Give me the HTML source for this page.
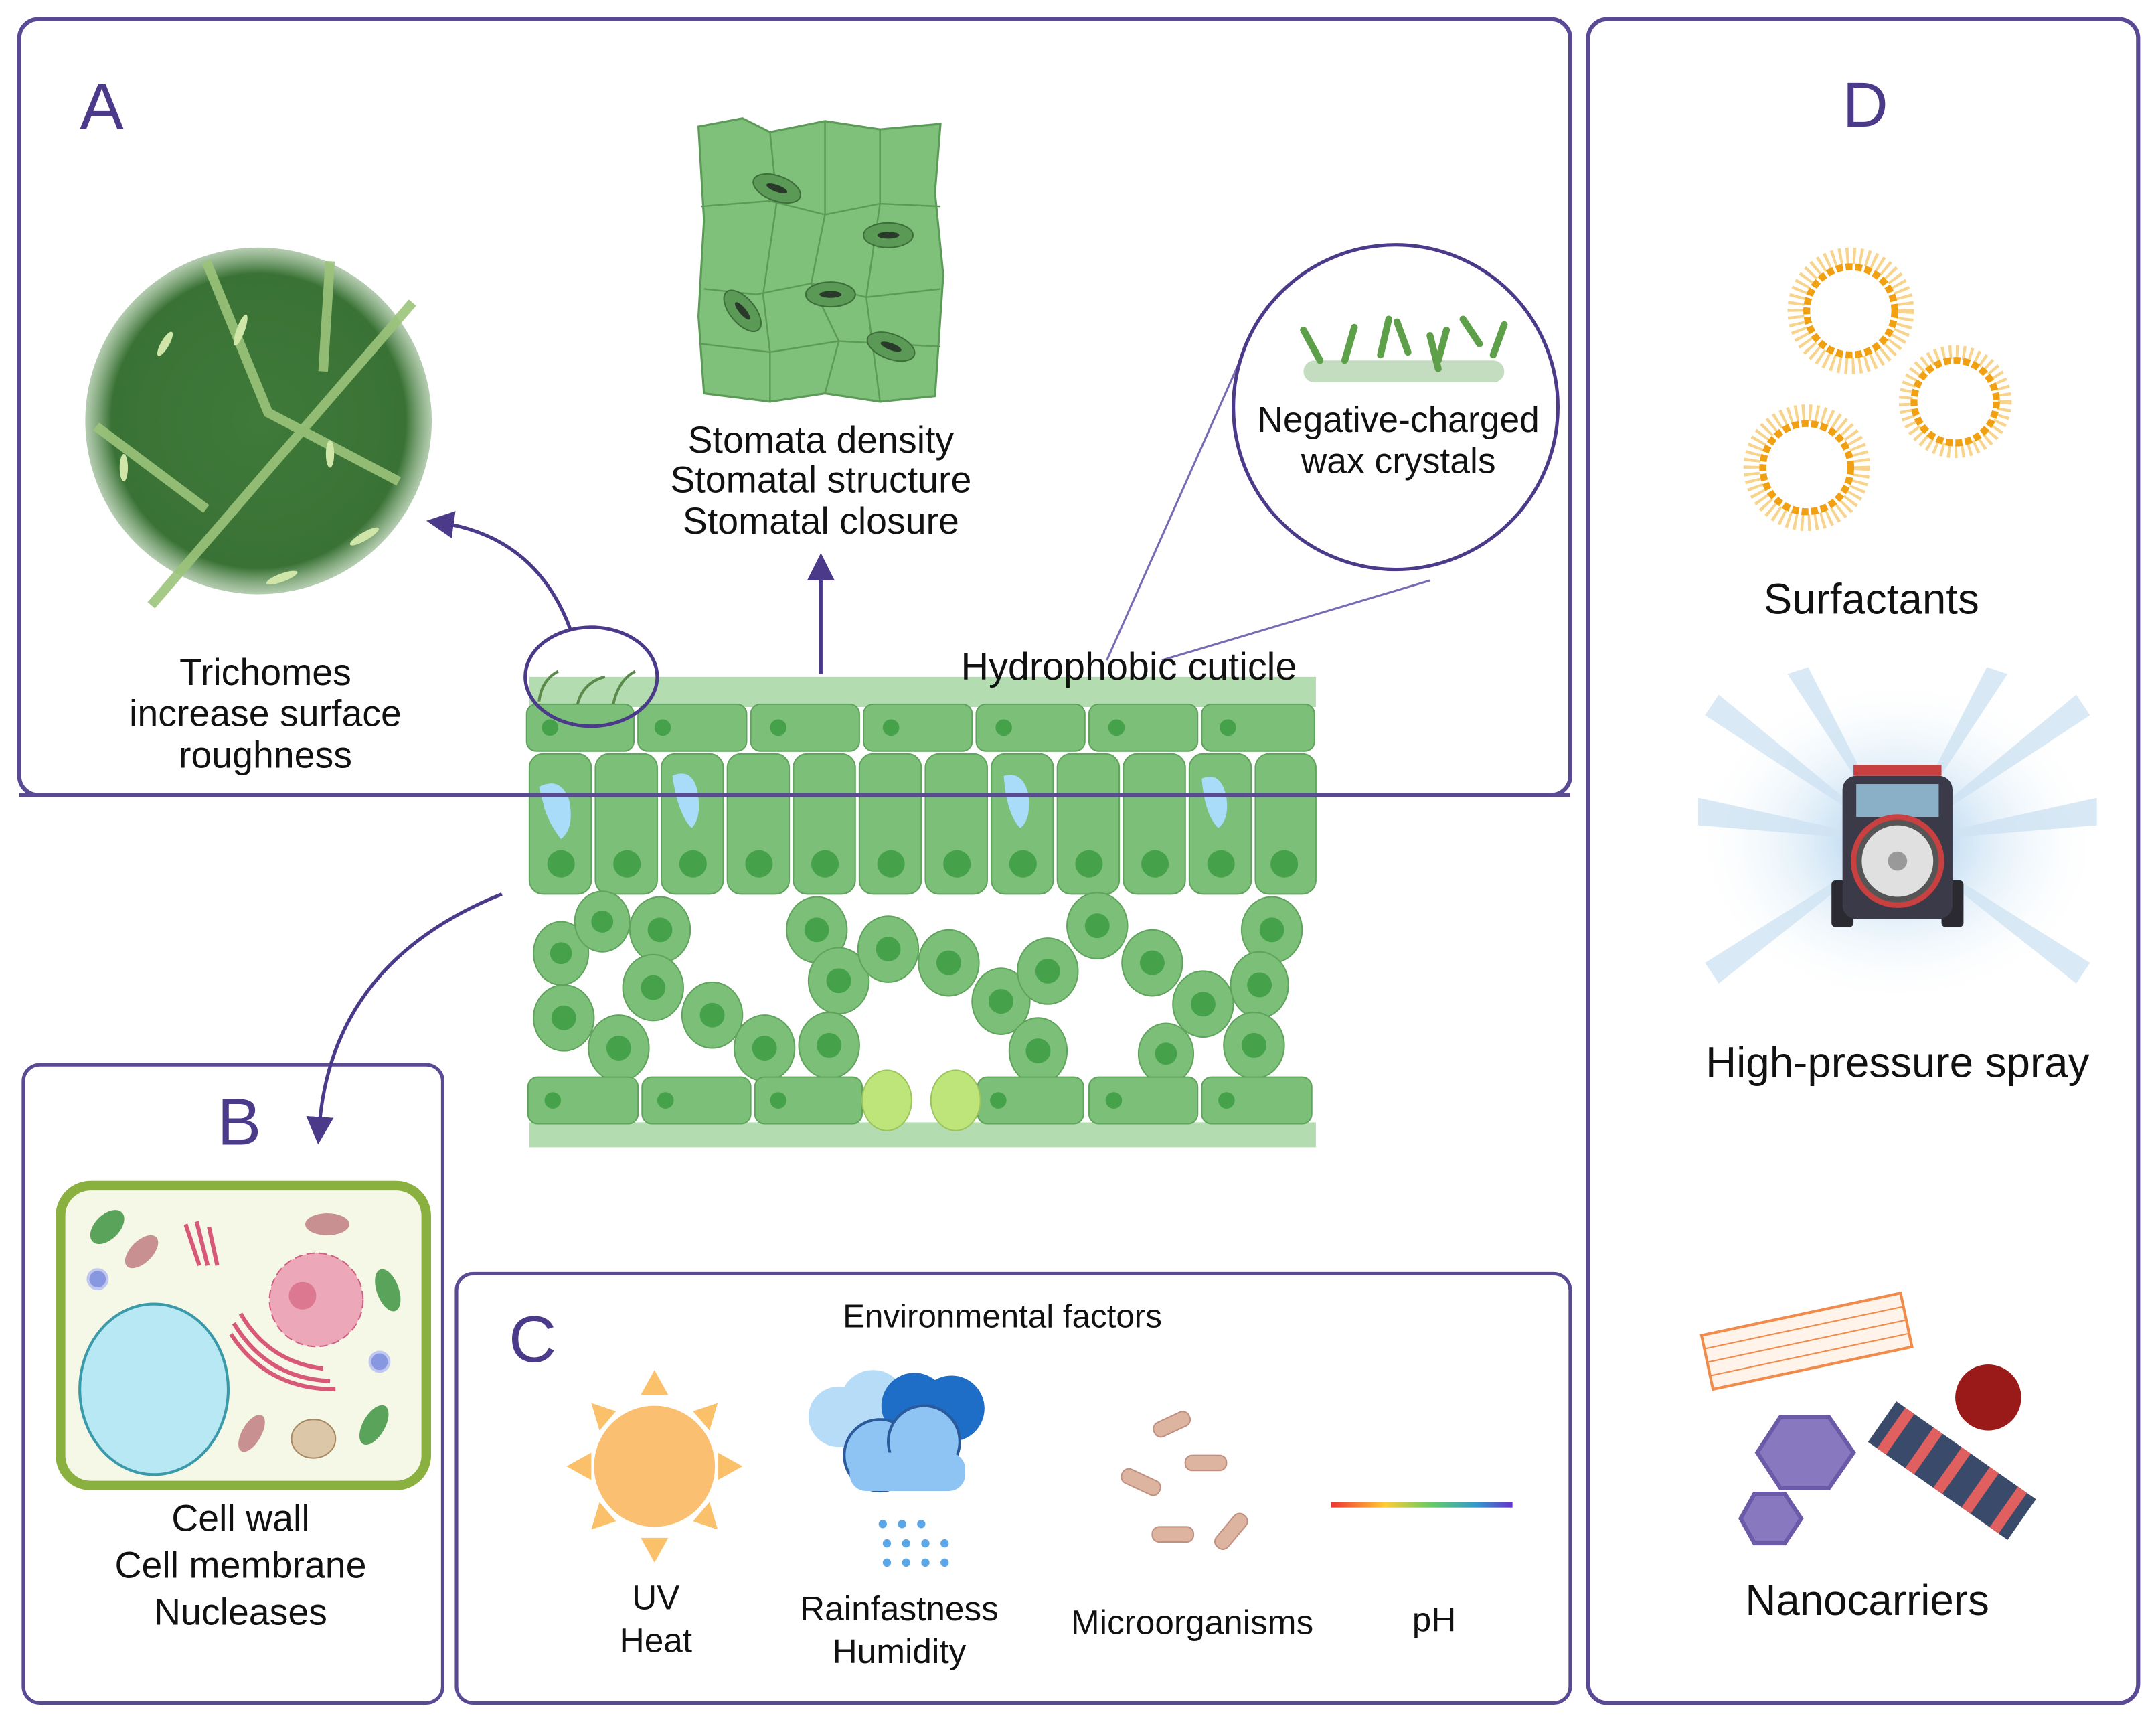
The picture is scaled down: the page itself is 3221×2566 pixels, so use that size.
<!DOCTYPE html>
<html><head><meta charset="utf-8"><style>
html,body{margin:0;padding:0;background:#fff;}
svg{display:block;}
text{font-family:"Liberation Sans",Arial,sans-serif;fill:#111;}
</style></head><body>
<svg width="3221" height="2566" viewBox="0 0 1568 1249" preserveAspectRatio="none" xmlns="http://www.w3.org/2000/svg">
<defs>
<radialGradient id="leafg" cx="50%" cy="50%" r="50%"><stop offset="0" stop-color="#3f7a3a"/><stop offset="0.85" stop-color="#3a7235"/><stop offset="1" stop-color="#6a9a62" stop-opacity="0.5"/></radialGradient>
<radialGradient id="spray" cx="50%" cy="50%" r="50%"><stop offset="0" stop-color="#9cc8ea"/><stop offset="1" stop-color="#ffffff" stop-opacity="0"/></radialGradient>
<linearGradient id="ph" x1="0" x2="1"><stop offset="0" stop-color="#e33"/><stop offset="0.3" stop-color="#fc3"/><stop offset="0.55" stop-color="#6c6"/><stop offset="0.8" stop-color="#39c"/><stop offset="1" stop-color="#63c"/></linearGradient>
<marker id="ah" markerWidth="8" markerHeight="8" refX="4" refY="4" orient="auto"><path d="M0,0 L8,4 L0,8 z" fill="#4b3a8a"/></marker>
</defs>

<rect x="14" y="14" width="1128" height="564" rx="14" fill="none" stroke="#5a4a94" stroke-width="3"/>
<rect x="1155" y="14" width="400" height="1224" rx="14" fill="none" stroke="#5a4a94" stroke-width="3"/>
<rect x="17" y="774" width="305" height="464" rx="12" fill="none" stroke="#5a4a94" stroke-width="2.5"/>
<rect x="332" y="926" width="810" height="312" rx="12" fill="none" stroke="#5a4a94" stroke-width="2.5"/>

<text x="58" y="94" font-size="48" style="fill:#4b3a8a">A</text>
<text x="1340" y="92" font-size="46" style="fill:#4b3a8a">D</text>
<text x="158" y="832" font-size="48" style="fill:#4b3a8a">B</text>
<text x="370" y="990" font-size="48" style="fill:#4b3a8a">C</text>

<rect x="385" y="492" width="572" height="22" fill="#b3ddb0"/>
<rect x="385" y="816" width="572" height="18" fill="#b3ddb0"/>
<g fill="#7cbf78" stroke="#5fa35c" stroke-width="1">
<rect x="383" y="512" width="78" height="34" rx="7"/><rect x="464" y="512" width="79" height="34" rx="7"/><rect x="546" y="512" width="79" height="34" rx="7"/><rect x="628" y="512" width="79" height="34" rx="7"/><rect x="710" y="512" width="79" height="34" rx="7"/><rect x="792" y="512" width="79" height="34" rx="7"/><rect x="874" y="512" width="82" height="34" rx="7"/>
</g>
<g fill="#46a24a"><circle cx="400" cy="529" r="6"/><circle cx="482" cy="529" r="6"/><circle cx="566" cy="529" r="6"/><circle cx="648" cy="529" r="6"/><circle cx="730" cy="529" r="6"/><circle cx="812" cy="529" r="6"/><circle cx="893" cy="529" r="6"/></g>
<g fill="#7cbf78" stroke="#5fa35c" stroke-width="1">
<rect x="385" y="548" width="45" height="102" rx="10"/><rect x="433" y="548" width="45" height="102" rx="10"/><rect x="481" y="548" width="45" height="102" rx="10"/><rect x="529" y="548" width="45" height="102" rx="10"/><rect x="577" y="548" width="45" height="102" rx="10"/><rect x="625" y="548" width="45" height="102" rx="10"/><rect x="673" y="548" width="45" height="102" rx="10"/><rect x="721" y="548" width="45" height="102" rx="10"/><rect x="769" y="548" width="45" height="102" rx="10"/><rect x="817" y="548" width="45" height="102" rx="10"/><rect x="865" y="548" width="45" height="102" rx="10"/><rect x="913" y="548" width="44" height="102" rx="10"/>
</g>
<g fill="#46a24a"><circle cx="408" cy="628" r="10"/><circle cx="456" cy="628" r="10"/><circle cx="504" cy="628" r="10"/><circle cx="552" cy="628" r="10"/><circle cx="600" cy="628" r="10"/><circle cx="648" cy="628" r="10"/><circle cx="696" cy="628" r="10"/><circle cx="744" cy="628" r="10"/><circle cx="792" cy="628" r="10"/><circle cx="840" cy="628" r="10"/><circle cx="888" cy="628" r="10"/><circle cx="934" cy="628" r="10"/></g>
<g fill="#a8dcf8"><path d="M392,572 q16,-8 22,10 q4,20 -6,28 q-8,-10 -12,-22z"/><path d="M489,564 q14,-6 18,10 q4,20 -4,28 q-10,-10 -14,-38z"/><path d="M730,564 q14,-4 18,14 q2,18 -6,24 q-10,-10 -12,-38z"/><path d="M874,566 q14,-6 18,14 q2,16 -6,22 q-10,-10 -12,-36z"/></g>
<g fill="#7cbf78" stroke="#5fa35c" stroke-width="1">
<ellipse cx="408" cy="693" rx="20" ry="23"/><ellipse cx="438" cy="670" rx="20" ry="22"/><ellipse cx="480" cy="676" rx="22" ry="24"/><ellipse cx="410" cy="740" rx="22" ry="24"/><ellipse cx="475" cy="718" rx="22" ry="24"/><ellipse cx="450" cy="762" rx="22" ry="24"/><ellipse cx="518" cy="738" rx="22" ry="24"/><ellipse cx="556" cy="762" rx="22" ry="24"/><ellipse cx="594" cy="676" rx="22" ry="24"/><ellipse cx="610" cy="713" rx="22" ry="24"/><ellipse cx="603" cy="760" rx="22" ry="24"/><ellipse cx="646" cy="690" rx="22" ry="24"/><ellipse cx="690" cy="700" rx="22" ry="24"/><ellipse cx="728" cy="728" rx="21" ry="24"/><ellipse cx="762" cy="706" rx="22" ry="24"/><ellipse cx="755" cy="764" rx="21" ry="24"/><ellipse cx="798" cy="673" rx="22" ry="24"/><ellipse cx="838" cy="700" rx="22" ry="24"/><ellipse cx="875" cy="730" rx="22" ry="24"/><ellipse cx="848" cy="766" rx="20" ry="22"/><ellipse cx="925" cy="676" rx="22" ry="24"/><ellipse cx="916" cy="716" rx="21" ry="24"/><ellipse cx="912" cy="760" rx="22" ry="24"/>
</g>
<g fill="#46a24a">
<circle cx="408" cy="693" r="8"/><circle cx="438" cy="670" r="8"/><circle cx="480" cy="676" r="9"/><circle cx="410" cy="740" r="9"/><circle cx="475" cy="718" r="9"/><circle cx="450" cy="762" r="9"/><circle cx="518" cy="738" r="9"/><circle cx="556" cy="762" r="9"/><circle cx="594" cy="676" r="9"/><circle cx="610" cy="713" r="9"/><circle cx="603" cy="760" r="9"/><circle cx="646" cy="690" r="9"/><circle cx="690" cy="700" r="9"/><circle cx="728" cy="728" r="9"/><circle cx="762" cy="706" r="9"/><circle cx="755" cy="764" r="9"/><circle cx="798" cy="673" r="9"/><circle cx="838" cy="700" r="9"/><circle cx="875" cy="730" r="9"/><circle cx="848" cy="766" r="8"/><circle cx="925" cy="676" r="9"/><circle cx="916" cy="716" r="9"/><circle cx="912" cy="760" r="9"/>
</g>
<g fill="#7cbf78" stroke="#5fa35c" stroke-width="1">
<rect x="384" y="783" width="80" height="34" rx="7"/><rect x="467" y="783" width="79" height="34" rx="7"/><rect x="549" y="783" width="78" height="34" rx="7"/><rect x="711" y="783" width="77" height="34" rx="7"/><rect x="792" y="783" width="79" height="34" rx="7"/><rect x="874" y="783" width="80" height="34" rx="7"/>
</g>
<g fill="#46a24a"><circle cx="402" cy="800" r="6"/><circle cx="484" cy="800" r="6"/><circle cx="566" cy="800" r="6"/><circle cx="726" cy="800" r="6"/><circle cx="810" cy="800" r="6"/><circle cx="892" cy="800" r="6"/></g>
<ellipse cx="645" cy="800" rx="18" ry="22" fill="#bde57a" stroke="#9cc45c"/>
<ellipse cx="695" cy="800" rx="18" ry="22" fill="#bde57a" stroke="#9cc45c"/>
<line x1="14" y1="578" x2="1142" y2="578" stroke="#5a4a94" stroke-width="3"/>

<g stroke="#5a8a4a" stroke-width="2" fill="none"><path d="M392,510 q2,-16 14,-22"/><path d="M420,512 q4,-16 20,-20"/><path d="M446,512 q4,-18 16,-24"/></g>
<ellipse cx="430" cy="492" rx="48" ry="36" fill="none" stroke="#4b3a8a" stroke-width="2.5"/>
<path d="M415,458 Q390,390 320,380" fill="none" stroke="#4b3a8a" stroke-width="2.5" marker-end="url(#ah)"/>
<line x1="597" y1="490" x2="597" y2="412" stroke="#4b3a8a" stroke-width="2.5" marker-end="url(#ah)"/>
<line x1="805" y1="480" x2="905" y2="255" stroke="#7a6ab4" stroke-width="1.5"/>
<line x1="845" y1="480" x2="1040" y2="422" stroke="#7a6ab4" stroke-width="1.5"/>
<circle cx="1015" cy="296" r="118" fill="#fff" stroke="#4b3a8a" stroke-width="2.5"/>
<rect x="948" y="262" width="146" height="16" rx="8" fill="#c4dcc0"/>
<g stroke="#5ea04a" stroke-width="5" stroke-linecap="round"><line x1="948" y1="240" x2="960" y2="262"/><line x1="985" y1="238" x2="978" y2="262"/><line x1="1010" y1="232" x2="1004" y2="258"/><line x1="1016" y1="234" x2="1024" y2="256"/><line x1="1040" y1="244" x2="1046" y2="268"/><line x1="1052" y1="240" x2="1046" y2="262"/><line x1="1064" y1="232" x2="1076" y2="250"/><line x1="1094" y1="236" x2="1086" y2="258"/></g>
<text x="1017" y="314" font-size="26" text-anchor="middle">Negative-charged</text>
<text x="1017" y="344" font-size="26" text-anchor="middle">wax crystals</text>
<text x="821" y="494" font-size="28" text-anchor="middle">Hydrophobic cuticle</text>

<circle cx="188" cy="306" r="126" fill="url(#leafg)"/>
<g stroke="#9cc47a" stroke-width="7" fill="none" opacity="0.9"><path d="M110,440 L300,220"/><path d="M150,190 L195,300 L290,350"/><path d="M70,310 L150,370"/><path d="M240,190 L235,270"/></g>
<g fill="#cfe6a8"><ellipse cx="120" cy="250" rx="3" ry="10" transform="rotate(30 120 250)"/><ellipse cx="240" cy="330" rx="3" ry="10"/><ellipse cx="175" cy="240" rx="3" ry="12" transform="rotate(20 175 240)"/><ellipse cx="265" cy="390" rx="3" ry="12" transform="rotate(60 265 390)"/><ellipse cx="90" cy="340" rx="3" ry="10"/><ellipse cx="205" cy="420" rx="3" ry="12" transform="rotate(70 205 420)"/></g>
<text x="193" y="498" font-size="27" text-anchor="middle">Trichomes</text>
<text x="193" y="528" font-size="27" text-anchor="middle">increase surface</text>
<text x="193" y="558" font-size="27" text-anchor="middle">roughness</text>

<path d="M508,92 L540,86 L560,96 L600,88 L640,94 L684,90 L680,140 L686,200 L680,288 L640,292 L600,286 L560,292 L512,286 L508,230 L512,160 z" fill="#7fc07a" stroke="#5c9a58" stroke-width="1.5"/>
<g stroke="#5c9a58" stroke-width="1.2" fill="none"><path d="M510,150 L560,146 L600,156 L640,148 L684,150"/><path d="M512,210 L550,214 L590,206 L630,216 L684,210"/><path d="M510,250 L560,256 L610,248 L684,252"/><path d="M560,96 L565,146 L555,214 L560,256 L560,292"/><path d="M600,88 L600,156 L590,206 L610,248 L600,286"/><path d="M640,94 L640,148 L630,216 L640,292"/></g>
<g fill="#5a9a56" stroke="#3e6e3a"><ellipse cx="565" cy="137" rx="18" ry="9" transform="rotate(20 565 137)"/><ellipse cx="646" cy="171" rx="18" ry="9"/><ellipse cx="604" cy="214" rx="18" ry="9"/><ellipse cx="540" cy="226" rx="18" ry="9" transform="rotate(50 540 226)"/><ellipse cx="648" cy="252" rx="18" ry="9" transform="rotate(20 648 252)"/></g>
<g fill="#2a3a2a"><ellipse cx="565" cy="137" rx="8" ry="2.5" transform="rotate(20 565 137)"/><ellipse cx="646" cy="171" rx="8" ry="2.5"/><ellipse cx="604" cy="214" rx="8" ry="2.5"/><ellipse cx="540" cy="226" rx="8" ry="2.5" transform="rotate(50 540 226)"/><ellipse cx="648" cy="252" rx="8" ry="2.5" transform="rotate(20 648 252)"/></g>
<text x="597" y="329" font-size="27" text-anchor="middle">Stomata density</text>
<text x="597" y="358" font-size="27" text-anchor="middle">Stomatal structure</text>
<text x="597" y="388" font-size="27" text-anchor="middle">Stomatal closure</text>

<path d="M365,650 Q240,700 232,822" fill="none" stroke="#4b3a8a" stroke-width="2.5" marker-end="url(#ah)"/>
<rect x="44" y="862" width="266" height="218" rx="22" fill="#f5f8e6" stroke="#8ab040" stroke-width="7"/>
<ellipse cx="112" cy="1010" rx="54" ry="62" fill="#b8e8f4" stroke="#3a9aaa" stroke-width="2"/>
<circle cx="230" cy="945" r="34" fill="#eca8b8" stroke="#d06080" stroke-dasharray="6 3"/>
<circle cx="220" cy="942" r="10" fill="#dc7890"/>
<g stroke="#d85878" stroke-width="3" fill="none"><path d="M175,955 q20,35 60,40"/><path d="M170,962 q24,40 70,42"/><path d="M168,970 q26,40 76,40"/><path d="M135,890 l10,30"/><path d="M143,888 l8,32"/><path d="M152,892 l6,28"/></g>
<g fill="#5aa35a"><ellipse cx="78" cy="892" rx="9" ry="15" transform="rotate(45 78 892)"/><ellipse cx="282" cy="938" rx="8" ry="16" transform="rotate(-20 282 938)"/><ellipse cx="272" cy="1036" rx="8" ry="16" transform="rotate(30 272 1036)"/></g>
<g fill="#c89090"><ellipse cx="103" cy="910" rx="8" ry="15" transform="rotate(45 103 910)"/><ellipse cx="238" cy="890" rx="16" ry="8"/><ellipse cx="183" cy="1042" rx="7" ry="15" transform="rotate(30 183 1042)"/></g>
<ellipse cx="228" cy="1046" rx="16" ry="14" fill="#dcc8a8" stroke="#a88860"/>
<circle cx="71" cy="930" r="7" fill="#8898e0" stroke="#c0c8f0" stroke-width="2"/>
<circle cx="276" cy="990" r="7" fill="#8898e0" stroke="#c0c8f0" stroke-width="2"/>
<text x="175" y="1113" font-size="27" text-anchor="middle">Cell wall</text>
<text x="175" y="1147" font-size="27" text-anchor="middle">Cell membrane</text>
<text x="175" y="1181" font-size="27" text-anchor="middle">Nucleases</text>

<text x="729" y="965" font-size="24" text-anchor="middle">Environmental factors</text>
<g fill="#fbc06a"><polygon points="476,996 466,1014 486,1014"/><polygon points="476,1136 466,1118 486,1118"/><polygon points="412,1066 430,1056 430,1076"/><polygon points="540,1066 522,1056 522,1076"/><polygon points="430,1020 448,1026 436,1040"/><polygon points="522,1020 504,1026 516,1040"/><polygon points="430,1112 448,1106 436,1092"/><polygon points="522,1112 504,1106 516,1092"/></g>
<circle cx="476" cy="1066" r="44" fill="#fbbf72"/>
<text x="477" y="1170" font-size="25" text-anchor="middle">UV</text>
<text x="477" y="1201" font-size="25" text-anchor="middle">Heat</text>
<g><circle cx="610" cy="1030" r="22" fill="#b7dcf7"/><circle cx="635" cy="1020" r="24" fill="#b7dcf7"/><circle cx="665" cy="1022" r="24" fill="#1e6ec8"/><circle cx="692" cy="1024" r="24" fill="#1e6ec8"/><circle cx="640" cy="1058" r="26" fill="#8ec4f4" stroke="#2a5a9a" stroke-width="2"/><circle cx="672" cy="1048" r="26" fill="#8ec4f4" stroke="#2a5a9a" stroke-width="2"/><rect x="618" y="1056" width="84" height="28" rx="12" fill="#8ec4f4"/></g>
<g fill="#5aa6e6"><circle cx="642" cy="1108" r="3"/><circle cx="656" cy="1108" r="3"/><circle cx="670" cy="1108" r="3"/><circle cx="645" cy="1122" r="3"/><circle cx="659" cy="1122" r="3"/><circle cx="673" cy="1122" r="3"/><circle cx="687" cy="1122" r="3"/><circle cx="645" cy="1136" r="3"/><circle cx="659" cy="1136" r="3"/><circle cx="673" cy="1136" r="3"/><circle cx="687" cy="1136" r="3"/></g>
<text x="654" y="1178" font-size="25" text-anchor="middle">Rainfastness</text>
<text x="654" y="1209" font-size="25" text-anchor="middle">Humidity</text>
<g fill="#dcb4a0" stroke="#c09080"><rect x="838" y="1030" width="28" height="11" rx="5" transform="rotate(-25 852 1035)"/><rect x="862" y="1058" width="30" height="11" rx="5"/><rect x="815" y="1072" width="30" height="11" rx="5" transform="rotate(25 830 1077)"/><rect x="838" y="1110" width="30" height="11" rx="5"/><rect x="880" y="1108" width="30" height="11" rx="5" transform="rotate(-50 895 1113)"/></g>
<text x="867" y="1188" font-size="25" text-anchor="middle">Microorganisms</text>
<rect x="968" y="1092" width="132" height="4" fill="url(#ph)"/>
<text x="1043" y="1186" font-size="25" text-anchor="middle">pH</text>

<g fill="none" stroke="#f0a818" stroke-width="1.2"><circle cx="1346" cy="226" r="40" stroke-dasharray="2 3" stroke-width="12" opacity="0.5"/><circle cx="1314" cy="340" r="40" stroke-dasharray="2 3" stroke-width="12" opacity="0.5"/><circle cx="1422" cy="292" r="36" stroke-dasharray="2 3" stroke-width="10" opacity="0.5"/></g>
<g fill="none" stroke="#f0a010" stroke-width="5" stroke-dasharray="5 2"><circle cx="1346" cy="226" r="32"/><circle cx="1314" cy="340" r="32"/><circle cx="1422" cy="292" r="30"/></g>
<text x="1361" y="446" font-size="31" text-anchor="middle">Surfactants</text>
<ellipse cx="1380" cy="612" rx="150" ry="120" fill="url(#spray)"/>
<g fill="#cfe3f3" opacity="0.8"><polygon points="1380,612 1240,520 1250,505"/><polygon points="1380,612 1520,520 1510,505"/><polygon points="1380,612 1235,600 1235,580"/><polygon points="1380,612 1525,600 1525,580"/><polygon points="1380,612 1240,700 1250,715"/><polygon points="1380,612 1520,700 1510,715"/><polygon points="1380,612 1300,490 1315,485"/><polygon points="1380,612 1460,490 1445,485"/></g>
<rect x="1348" y="556" width="64" height="8" fill="#c84040"/>
<rect x="1332" y="640" width="16" height="34" rx="3" fill="#2a2a30"/>
<rect x="1412" y="640" width="16" height="34" rx="3" fill="#2a2a30"/>
<rect x="1340" y="564" width="80" height="104" rx="10" fill="#3a3a48"/>
<rect x="1350" y="570" width="60" height="24" fill="#8ab0c8"/>
<circle cx="1380" cy="626" r="34" fill="#c84040"/>
<circle cx="1380" cy="626" r="28" fill="#e0e0e0" stroke="#555" stroke-width="4"/>
<circle cx="1380" cy="626" r="7" fill="#999"/>
<text x="1380" y="783" font-size="31" text-anchor="middle">High-pressure spray</text>
<g transform="rotate(-12 1314 975)"><rect x="1240" y="955" width="148" height="40" fill="#fff3ea" stroke="#f28a4a" stroke-width="2"/><path d="M1240,965 h148 M1240,975 h148 M1240,985 h148" stroke="#f28a4a" stroke-width="1"/></g>
<polygon points="1295,1030 1330,1030 1348,1056 1330,1082 1295,1082 1278,1056" fill="#8878c0" stroke="#6a5aa8" stroke-width="3"/>
<polygon points="1276,1086 1298,1086 1310,1104 1298,1122 1276,1122 1266,1104" fill="#8878c0" stroke="#6a5aa8" stroke-width="3"/>
<circle cx="1446" cy="1016" r="24" fill="#9a1a1a"/>
<g transform="rotate(35 1418 1068)"><rect x="1358" y="1050" width="124" height="36" fill="#3a4a6a"/><path d="M1370,1050 v36 M1395,1050 v36 M1420,1050 v36 M1445,1050 v36 M1470,1050 v36" stroke="#e06060" stroke-width="8"/></g>
<text x="1358" y="1174" font-size="31" text-anchor="middle">Nanocarriers</text>
</svg>
</body></html>
